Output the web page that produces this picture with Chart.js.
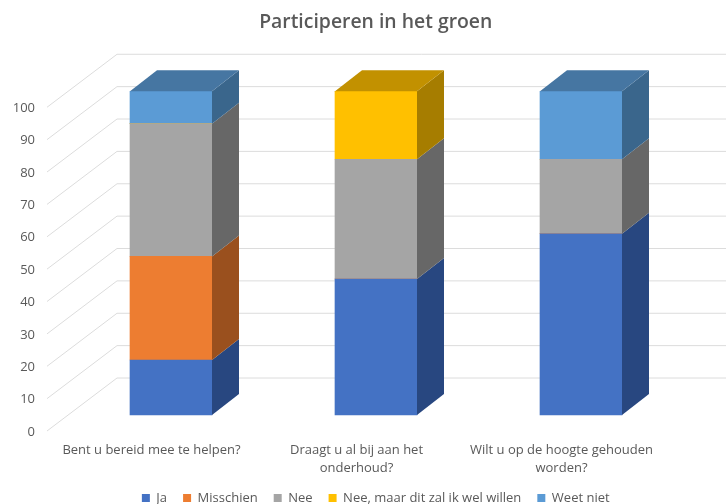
<!DOCTYPE html>
<html><head><meta charset="utf-8">
<style>html,body{margin:0;padding:0;background:#fff}canvas{display:block}</style>
<script src="https://cdn.jsdelivr.net/npm/chart.js@4/dist/chart.umd.min.js"></script>
</head><body><canvas id="c" width="726" height="504"></canvas>
<script>
const categories = [["Bent u bereid mee te helpen?"],["Draagt u al bij aan het","onderhoud?"],["Wilt u op de hoogte gehouden","worden?"]];
const seriesNames = ["Ja","Misschien","Nee","Nee, maar dit zal ik wel willen","Weet niet"];
const ja = [17,42,56];
const misschien = [32,0,0];
const nee = [41,37,23];
const neeMaar = [0,21,0];
const weetNiet = [10,0,21];
const seriesValues = [ja,misschien,nee,neeMaar,weetNiet];
const frontColors = ["#4472c4","#ed7d31","#a5a5a5","#ffc000","#5b9bd5"];
const sideColors = ["#284780","#9a501e","#676767","#a67d00","#3a668c"];
const topColors = ["#36599c","#bb6226","#838383","#c29100","#4676a2"];
const FONT = "'Open Sans', sans-serif";
const TEXT = "#595959", GRID = "#dcdcdc";
const BAR_DX = 27, BAR_DY = 21, WALL_DX = 70, WALL_DY = 53, FLOOR_DY = 16, WALL_LEFT = 47;
const LABEL_DY = 17, CAT_DX = -19.5, BLOCK_DX = 21, LEGEND_DY = 10.5;

const depthPlugin = {
  id:"depth",
  afterLayout(chart){
    const y = chart.scales.y, x = chart.scales.x;
    y.getLabelItems(chart.chartArea).forEach(it=>{ it.options.translation[1] += LABEL_DY; });
    x.getLabelItems(chart.chartArea).forEach(it=>{ it.options.translation[0] += CAT_DX; });
    y.left = 0;
    x.bottom = chart.height;
    const l = chart.legend, t = chart.titleBlock;
    l.top += LEGEND_DY; l.bottom += LEGEND_DY;
    l.left += BLOCK_DX; l.right += BLOCK_DX;
    t.left += BLOCK_DX; t.right += BLOCK_DX;
  },
  beforeDatasetsDraw(chart){
    const c = chart.ctx, y = chart.scales.y;
    c.save(); c.strokeStyle = GRID; c.lineWidth = 1;
    y.ticks.forEach(t=>{
      const p = y.getPixelForValue(t.value), fy = p + FLOOR_DY, by = fy - WALL_DY;
      c.beginPath();
      c.moveTo(WALL_LEFT, fy);
      c.lineTo(WALL_LEFT + WALL_DX, by);
      c.lineTo(chart.width, by);
      c.stroke();
    });
    c.restore();
  },
  afterDatasetsDraw(chart){
    const c = chart.ctx;
    c.save();
    categories.forEach((_,j)=>{
      let top = null;
      chart.data.datasets.forEach((ds,i)=>{
        if(!ds.data[j]) return;
        const b = chart.getDatasetMeta(i).data[j];
        const r = b.x + b.width/2;
        c.fillStyle = sideColors[i];
        c.beginPath();
        c.moveTo(r,b.y); c.lineTo(r+BAR_DX,b.y-BAR_DY);
        c.lineTo(r+BAR_DX,b.base-BAR_DY); c.lineTo(r,b.base);
        c.closePath(); c.fill();
        top = {b,i};
      });
      if(top){
        const b = top.b, l = b.x-b.width/2, r = b.x+b.width/2;
        c.fillStyle = topColors[top.i];
        c.beginPath();
        c.moveTo(l,b.y); c.lineTo(l+BAR_DX,b.y-BAR_DY);
        c.lineTo(r+BAR_DX,b.y-BAR_DY); c.lineTo(r,b.y);
        c.closePath(); c.fill();
      }
    });
    c.restore();
  }
};

new Chart(document.getElementById("c"),{
  type:"bar",
  data:{labels:categories,datasets:seriesNames.map((n,i)=>({
    label:n,data:seriesValues[i],backgroundColor:frontColors[i],
    barThickness:82,borderWidth:0,clip:false}))},
  plugins:[depthPlugin],
  options:{
    responsive:false,animation:false,
    layout:{padding:{left:26,right:42.5}},
    scales:{
      x:{stacked:true,grid:{display:false,drawTicks:false},border:{display:false},
        ticks:{color:TEXT,font:{family:FONT,size:13,lineHeight:1.38},padding:26,maxRotation:0,autoSkip:false},
        afterFit(s){s.height=50;}},
      y:{stacked:true,min:0,max:100,grid:{display:false,drawTicks:false},border:{display:false},
        ticks:{stepSize:10,color:TEXT,font:{family:FONT,size:13},padding:33.5},
        afterFit(s){s.width=42.5;}}
    },
    plugins:{
      title:{display:true,text:"Participeren in het groen",color:TEXT,
        font:{family:FONT,size:19.4,weight:"600"},padding:{top:11,bottom:57}},
      legend:{position:"bottom",labels:{boxWidth:8,boxHeight:8,color:TEXT,padding:16,
        font:{family:FONT,size:13}}},
      tooltip:{enabled:false}
    }
  }
});
</script></body></html>
